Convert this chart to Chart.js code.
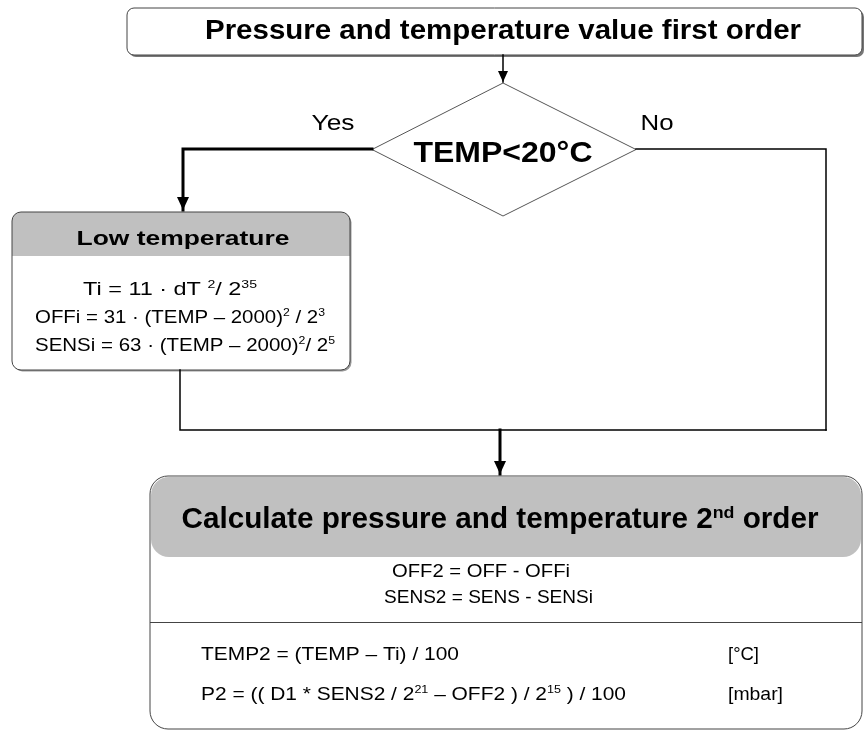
<!DOCTYPE html>
<html>
<head>
<meta charset="utf-8">
<script src="https://cdn.jsdelivr.net/npm/chart.js@4.4.1/dist/chart.umd.min.js"></script>
<style>
body { margin: 0; background: #fff; }
canvas { display: block; }
</style>
</head>
<body>
<canvas id="mycanvas" width="867" height="732"></canvas>
<script>
// texts of the flowchart (a run is [text, isSuperscript])
var startTitle = "Pressure and temperature value first order";
var decisionText = "TEMP<20°C";
var branchLabels = ["Yes", "No"];
var lowTitle = "Low temperature";
var lowFormulas = [
	[["Ti = 11 · dT ", 0], ["2", 1], ["/ 2", 0], ["35", 1]],
	[["OFFi = 31 · (TEMP – 2000)", 0], ["2", 1], [" / 2", 0], ["3", 1]],
	[["SENSi = 63 · (TEMP – 2000)", 0], ["2", 1], ["/ 2", 0], ["5", 1]]
];
var calcTitle = [["Calculate pressure and temperature 2", 0], ["nd", 1], [" order", 0]];
var calcCenter = ["OFF2 = OFF - OFFi", "SENS2 = SENS - SENSi"];
var calcFormulas = [
	[["TEMP2 = (TEMP – Ti) / 100", 0]],
	[["P2 = (( D1 * SENS2 / 2", 0], ["21", 1], [" – OFF2 ) / 2", 0], ["15", 1], [" ) / 100", 0]]
];
var calcUnits = ["[°C]", "[mbar]"];

// layout, in scale units (same as canvas pixels)
var layout = {
	startBox: { x1: 127, y1: 8, x2: 862, y2: 55, r: 7 },
	diamond: { cx: 503, top: 83, bottom: 216, left: 372, right: 636 },
	lowBox: { x1: 12, y1: 212, x2: 350, y2: 370, r: 9, head: 256 },
	calcBox: { x1: 150, y1: 476, x2: 862, y2: 729, r: 18, head: 556, sep: 622 },
	links: [
		{ pts: [[503, 55], [503, 82]], w: 1.5, arrow: true },
		{ pts: [[372, 149], [183, 149], [183, 210]], w: 3, arrow: true },
		{ pts: [[636, 149], [826, 149], [826, 430]], w: 1.5, arrow: false },
		{ pts: [[180, 370], [180, 430], [826, 430]], w: 1.5, arrow: false },
		{ pts: [[500, 430], [500, 474]], w: 3, arrow: true }
	]
};

var FONT = "'Liberation Sans', Arial, sans-serif";
var SUP = 0.6;

function runFont(size, bold, sup) {
	return (bold ? "bold " : "") + (sup ? size * SUP : size) + "px " + FONT;
}

function richWidth(ctx, runs, size, bold) {
	var w = 0;
	runs.forEach(function(r) {
		ctx.font = runFont(size, bold, r[1]);
		w += ctx.measureText(r[0]).width;
	});
	return w;
}

// draws runs at x (left or center), squeezed to opts.width or by opts.scale
function drawRich(ctx, runs, x, y, size, bold, opts) {
	var natural = richWidth(ctx, runs, size, bold);
	var sx = opts.width ? opts.width / natural : (opts.scale || 1);
	var total = natural * sx;
	var start = opts.align === "center" ? x - total / 2 : x;
	ctx.save();
	ctx.translate(start, y);
	ctx.scale(sx, 1);
	ctx.fillStyle = "#000";
	ctx.textBaseline = "alphabetic";
	ctx.textAlign = "left";
	var cx = 0;
	runs.forEach(function(r) {
		ctx.font = runFont(size, bold, r[1]);
		ctx.fillText(r[0], cx, r[1] ? -size * 0.36 : 0);
		cx += ctx.measureText(r[0]).width;
	});
	ctx.restore();
}

var flowPlugin = {
	id: 'flow',
	beforeDatasetsDraw: function(chart) {
		var ctx = chart.ctx;
		var sx = chart.scales.x, sy = chart.scales.y;
		function px(v) { return sx.getPixelForValue(v); }
		function py(v) { return sy.getPixelForValue(v); }

		// start box
		var b = layout.startBox;
		ctx.save();
		ctx.fillStyle = "#777";
		ctx.beginPath();
		ctx.roundRect(px(b.x1) + 2, py(b.y1) + 2, px(b.x2) - px(b.x1), py(b.y2) - py(b.y1), b.r);
		ctx.fill();
		ctx.fillStyle = "#fff";
		ctx.strokeStyle = "#444";
		ctx.lineWidth = 1;
		ctx.beginPath();
		ctx.roundRect(px(b.x1), py(b.y1), px(b.x2) - px(b.x1), py(b.y2) - py(b.y1), b.r);
		ctx.fill();
		ctx.stroke();

		// diamond
		var d = layout.diamond;
		var mid = (d.top + d.bottom) / 2;
		ctx.beginPath();
		ctx.moveTo(px(d.cx), py(d.top));
		ctx.lineTo(px(d.right), py(mid));
		ctx.lineTo(px(d.cx), py(d.bottom));
		ctx.lineTo(px(d.left), py(mid));
		ctx.closePath();
		ctx.fillStyle = "#fff";
		ctx.fill();
		ctx.strokeStyle = "#555";
		ctx.stroke();

		// low temperature box
		b = layout.lowBox;
		var w = px(b.x2) - px(b.x1), h = py(b.y2) - py(b.y1);
		ctx.fillStyle = "#999";
		ctx.beginPath();
		ctx.roundRect(px(b.x1) + 1.5, py(b.y1) + 1.5, w, h, b.r);
		ctx.fill();
		ctx.fillStyle = "#fff";
		ctx.beginPath();
		ctx.roundRect(px(b.x1), py(b.y1), w, h, b.r);
		ctx.fill();
		ctx.fillStyle = "#c0c0c0";
		ctx.beginPath();
		ctx.roundRect(px(b.x1), py(b.y1), w, py(b.head) - py(b.y1), [b.r, b.r, 0, 0]);
		ctx.fill();
		ctx.strokeStyle = "#444";
		ctx.beginPath();
		ctx.roundRect(px(b.x1), py(b.y1), w, h, b.r);
		ctx.stroke();

		// calculate box
		b = layout.calcBox;
		w = px(b.x2) - px(b.x1); h = py(b.y2) - py(b.y1);
		ctx.fillStyle = "#fff";
		ctx.beginPath();
		ctx.roundRect(px(b.x1), py(b.y1), w, h, b.r);
		ctx.fill();
		ctx.fillStyle = "#c0c0c0";
		ctx.beginPath();
		ctx.roundRect(px(b.x1) + 1, py(b.y1) + 1, w - 2, py(b.head) - py(b.y1), b.r);
		ctx.fill();
		ctx.strokeStyle = "#444";
		ctx.beginPath();
		ctx.roundRect(px(b.x1), py(b.y1), w, h, b.r);
		ctx.stroke();
		ctx.beginPath();
		ctx.moveTo(px(b.x1), py(b.sep) + 0.5);
		ctx.lineTo(px(b.x2), py(b.sep) + 0.5);
		ctx.stroke();
		ctx.restore();
	},
	afterDatasetsDraw: function(chart) {
		var ctx = chart.ctx;
		var sx = chart.scales.x, sy = chart.scales.y;
		function px(v) { return sx.getPixelForValue(v); }
		function py(v) { return sy.getPixelForValue(v); }

		// arrow heads
		ctx.save();
		ctx.fillStyle = "#000";
		layout.links.forEach(function(l) {
			if (!l.arrow) return;
			var p = l.pts[l.pts.length - 1];
			var hw = l.w > 2 ? 6 : 5, hl = l.w > 2 ? 13 : 11;
			ctx.beginPath();
			ctx.moveTo(px(p[0]), py(p[1]));
			ctx.lineTo(px(p[0]) - hw, py(p[1]) - hl);
			ctx.lineTo(px(p[0]) + hw, py(p[1]) - hl);
			ctx.closePath();
			ctx.fill();
		});
		ctx.restore();

		// titles
		drawRich(ctx, [[startTitle, 0]], px(503), py(39), 27, true, { width: 596, align: "center" });
		drawRich(ctx, [[decisionText, 0]], px(503), py(162), 30, true, { width: 179, align: "center" });
		drawRich(ctx, [[branchLabels[0], 0]], px(333), py(130), 22, false, { width: 43, align: "center" });
		drawRich(ctx, [[branchLabels[1], 0]], px(657), py(130), 22, false, { width: 33, align: "center" });
		drawRich(ctx, [[lowTitle, 0]], px(183), py(245), 21, true, { width: 213, align: "center" });
		drawRich(ctx, calcTitle, px(500), py(528), 29, true, { width: 637, align: "center" });

		// formulas in the low temperature box
		var lowX = [83, 35, 35], lowY = [295, 323, 351], lowW = [174, 290, 300];
		lowFormulas.forEach(function(runs, i) {
			drawRich(ctx, runs, px(lowX[i]), py(lowY[i]), 19, false, { width: lowW[i] });
		});

		// formulas in the calculation box
		var cX = [392, 384], cY = [577, 603], cW = [178, 209];
		calcCenter.forEach(function(t, i) {
			drawRich(ctx, [[t, 0]], px(cX[i]), py(cY[i]), 18, false, { width: cW[i] });
		});
		var body = 425 / richWidth(ctx, calcFormulas[1], 19, false);
		var fY = [660, 700], uW = [31, 55];
		calcFormulas.forEach(function(runs, i) {
			drawRich(ctx, runs, px(201), py(fY[i]), 19, false, { scale: body });
			drawRich(ctx, [[calcUnits[i], 0]], px(728), py(fY[i]), 19, false, { width: uW[i] });
		});
	}
};

var datasets = layout.links.map(function(l) {
	return {
		data: l.pts.map(function(p) { return { x: p[0], y: p[1] }; }),
		showLine: true,
		borderColor: '#000',
		borderWidth: l.w,
		pointRadius: 0,
		borderCapStyle: 'square',
		clip: false
	};
});

var ctx = document.getElementById("mycanvas");
var flowChart = new Chart(ctx, {
	type: 'scatter',
	data: { datasets: datasets },
	options: {
		responsive: false,
		animation: false,
		layout: { padding: 0 },
		plugins: { legend: { display: false }, tooltip: { enabled: false } },
		scales: {
			x: { type: 'linear', min: 0, max: 867, display: false },
			y: { type: 'linear', min: 0, max: 732, reverse: true, display: false }
		}
	},
	plugins: [flowPlugin]
});
</script>
</body>
</html>
